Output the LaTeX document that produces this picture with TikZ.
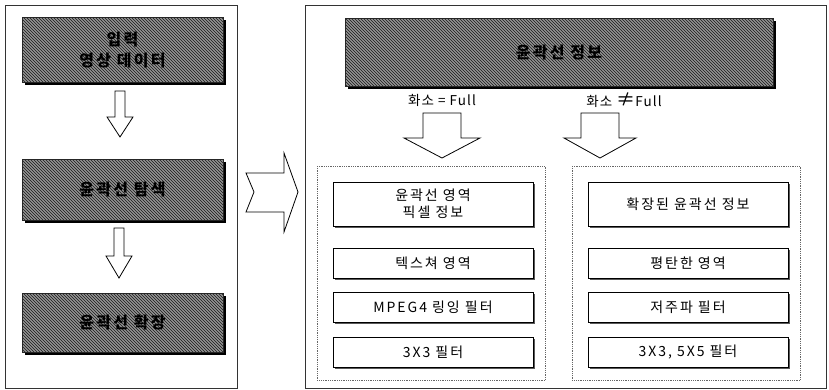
\documentclass[tikz,border=0pt]{standalone}
\usepackage{fontspec}
\setmainfont{Noto Sans CJK KR}
\newfontfamily\krs[LetterSpace=14]{Noto Sans CJK KR}
\newfontfamily\krl[LetterSpace=8]{Noto Sans CJK KR}
\usetikzlibrary{patterns,shadows}

\tikzset{
  hatchbox/.style={draw=black!85, line width=1pt,
    drop shadow={shadow xshift=2.5pt, shadow yshift=-2.5pt, fill=black, opacity=1},
    preaction={fill=black!42}, pattern=north west lines, pattern color=black!90,
    font=\krs\bfseries\fontsize{16}{21}\selectfont, align=center, inner sep=0pt},
  whitebox/.style={draw=black, line width=0.9pt, fill=white,
    drop shadow={shadow xshift=2pt, shadow yshift=-2pt, fill=black!65, opacity=1},
    font=\krs\fontsize{14}{17}\selectfont, align=center, inner sep=0pt,
    minimum width=200pt},
  container/.style={draw=black!60, densely dotted, line width=0.8pt,
    minimum width=228pt, minimum height=214pt, anchor=north west, inner sep=0pt},
  outerbox/.style={draw=black!80, line width=0.8pt, anchor=north west, inner sep=0pt},
  blockarrow/.style={draw=black, line width=0.8pt, fill=white, line join=miter},
  lbl/.style={font=\krl\fontsize{13.5}{15}\selectfont, inner sep=0pt}
}

\newcommand\myDownArrow[6]{%
  \draw[blockarrow] (#1-#5,#2) -- (#1+#5,#2) -- (#1+#5,#3) -- (#1+#6,#3)
    -- (#1,#4) -- (#1-#6,#3) -- (#1-#5,#3) -- cycle;}

\begin{document}
\begin{tikzpicture}[x=1pt,y=-1pt]
\useasboundingbox (0,0) rectangle (829,390);

% outer frames
\node[outerbox, minimum width=232pt, minimum height=383pt] (L) at (5,5) {};
\node[outerbox, minimum width=521pt, minimum height=383pt] (R) at (305,5) {};

% left column
\node[hatchbox, minimum width=201pt, minimum height=65pt] (inp) at (122.5,50.5) {입력\\영상 데이터};
\node[hatchbox, minimum width=201pt, minimum height=60pt] (srch) at (122.5,190) {윤곽선 탐색};
\node[hatchbox, minimum width=201pt, minimum height=59pt] (ext) at (122.5,322.5) {윤곽선 확장};

\myDownArrow{120}{91}{117}{137}{5}{13}
\myDownArrow{119}{228}{256}{278}{5}{13}

% big chevron arrow
\draw[blockarrow] (246,173) -- (284,173) -- (284,153) -- (298,192) -- (284,232)
  -- (284,212) -- (246,212) -- (254,192) -- cycle;

% right side
\node[hatchbox, minimum width=428pt, minimum height=68pt] (info) at (559,53) {윤곽선 정보};

\node[lbl] (eq) at (442,100) {화소 = Full};
\node[lbl] (neq) at (624,100) {화소 {\fontsize{19}{15}\selectfont ≠}Full};

\myDownArrow{442}{113}{138}{158}{19}{38}
\myDownArrow{600}{113}{138}{158}{19}{36}

\node[container] (cl) at (317,166) {};
\node[container] (cr) at (572,166) {};

\node[whitebox, minimum height=44pt] (la) at (433,204) {윤곽선 영역\\픽셀 정보};
\node[whitebox, minimum height=30pt] (lb) at (433,263) {텍스쳐 영역};
\node[whitebox, minimum height=30pt] (lc) at (433,307) {MPEG4 링잉 필터};
\node[whitebox, minimum height=30pt] (ld) at (433,352) {3X3 필터};

\node[whitebox, minimum height=44pt] (ra) at (688,204) {확장된 윤곽선 정보};
\node[whitebox, minimum height=30pt] (rb) at (688,263) {평탄한 영역};
\node[whitebox, minimum height=30pt] (rc) at (688,307) {저주파 필터};
\node[whitebox, minimum height=30pt] (rd) at (688,352) {3X3, 5X5 필터};
\end{tikzpicture}
\end{document}
